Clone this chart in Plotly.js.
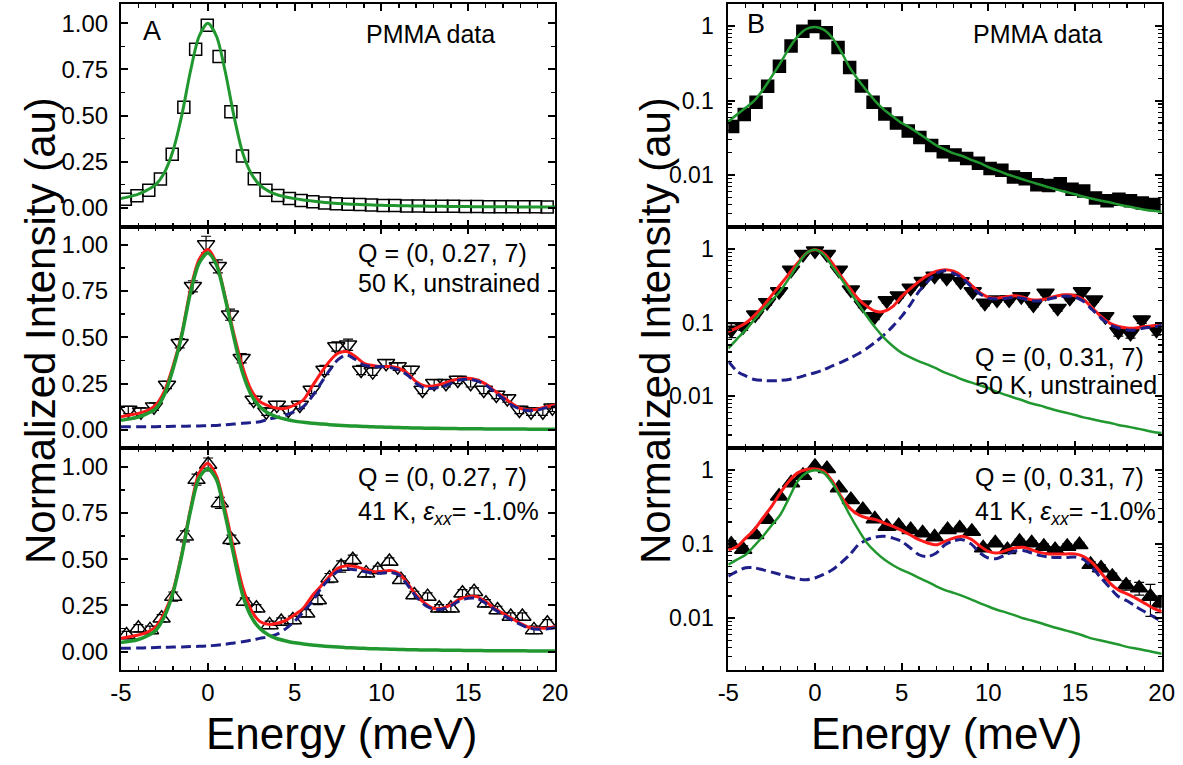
<!DOCTYPE html>
<html><head><meta charset="utf-8">
<script src="https://cdn.plot.ly/plotly-3.0.1.min.js"></script>
<style>html,body{margin:0;padding:0;background:#fff}#plot{width:1183px;height:765px}</style>
</head><body><div id="plot"></div>
<script>
// ---------- DATA ----------
const E_fit = [-5,-4.5,-4,-3.5,-3,-2.5,-2,-1.5,-1,-0.5,0,0.5,1,1.5,2,2.5,3,3.5,4,4.5,5,5.5,6,6.5,7,7.5,8,8.5,9,9.5,10,10.5,11,11.5,12,12.5,13,13.5,14,14.5,15,15.5,16,16.5,17,17.5,18,18.5,19,19.5,20];

// PMMA reference data (panels A top and B top)
const E_pmma = [-4.75,-4.08,-3.40,-2.73,-2.05,-1.38,-0.70,-0.03,0.65,1.33,2.00,2.68,3.35,4.03,4.70,5.38,6.05,6.73,7.40,8.08,8.75,9.43,10.10,10.78,11.45,12.13,12.80,13.48,14.15,14.83,15.50,16.18,16.85,17.53,18.20,18.88,19.55];
const I_pmma = [0.045,0.065,0.095,0.156,0.29,0.545,0.86,0.99,0.82,0.52,0.28,0.157,0.095,0.066,0.05,0.039,0.032,0.025,0.0205,0.0185,0.0166,0.0144,0.0122,0.0116,0.0094,0.0089,0.0074,0.0072,0.0076,0.0064,0.0061,0.0049,0.0045,0.0047,0.0045,0.0042,0.004];

// Q = (0, 0.27, 7), 50 K unstrained (panel A middle)
const E_A2 = [-4.58,-3.85,-3.1,-2.35,-1.62,-0.86,-0.1,0.58,1.28,1.95,2.64,3.37,3.98,4.64,5.3,5.98,6.72,7.4,8.08,8.83,9.5,10.27,10.94,11.7,12.37,13.04,13.72,14.4,15.14,15.9,16.62,17.25,17.95,18.62,19.3,19.85];
const I_A2 = [0.108,0.099,0.126,0.243,0.468,0.775,1.0,0.883,0.622,0.387,0.162,0.099,0.135,0.108,0.135,0.216,0.324,0.45,0.46,0.324,0.315,0.36,0.342,0.324,0.216,0.252,0.252,0.27,0.252,0.216,0.189,0.17,0.108,0.099,0.099,0.12];
const err_A2 = [0.02,0.02,0.02,0.02,0.025,0.03,0.045,0.035,0.03,0.025,0.02,0.02,0.02,0.02,0.02,0.02,0.025,0.025,0.03,0.025,0.02,0.02,0.02,0.02,0.02,0.02,0.02,0.02,0.02,0.02,0.02,0.02,0.02,0.02,0.02,0.02];

// Q = (0, 0.27, 7), 41 K strained (panel A bottom)
const E_A3 = [-4.68,-4.0,-3.33,-2.66,-1.99,-1.32,-0.65,0.02,0.69,1.36,2.13,2.8,3.56,4.23,4.9,5.67,6.34,7.01,7.68,8.35,9.12,9.79,10.46,11.13,11.9,12.66,13.33,14.0,14.67,15.34,16.02,16.69,17.45,18.12,18.79,19.56];
const I_A3 = [0.09,0.127,0.118,0.181,0.298,0.624,0.931,1.013,0.805,0.606,0.271,0.235,0.145,0.163,0.172,0.208,0.28,0.398,0.461,0.497,0.425,0.443,0.488,0.389,0.307,0.298,0.235,0.235,0.316,0.325,0.262,0.226,0.19,0.19,0.118,0.154];
const err_A3 = [0.02,0.02,0.02,0.02,0.025,0.03,0.03,0.035,0.03,0.025,0.02,0.02,0.02,0.02,0.02,0.02,0.025,0.025,0.03,0.025,0.02,0.02,0.02,0.02,0.02,0.02,0.02,0.02,0.02,0.02,0.02,0.02,0.02,0.02,0.02,0.02];

// Q = (0, 0.31, 7), 50 K unstrained (panel B middle)
const E_B2 = [-4.83,-4.14,-3.45,-2.76,-2.07,-1.38,-0.69,0,0.69,1.38,2.07,2.76,3.45,4.14,4.83,5.52,6.21,6.9,7.6,8.4,9.1,9.8,10.5,11.2,11.9,12.6,13.3,14.0,14.7,15.4,16.1,16.75,17.5,18.2,18.85,19.7];
const I_B2 = [0.08,0.089,0.128,0.189,0.266,0.52,0.85,0.95,0.85,0.52,0.28,0.176,0.122,0.2,0.233,0.296,0.365,0.43,0.404,0.364,0.266,0.185,0.205,0.205,0.228,0.176,0.253,0.158,0.216,0.266,0.205,0.122,0.076,0.072,0.11,0.08];
const err_B2 = [0.017,0.01,0.012,0.015,0.02,0.03,0.04,0.05,0.04,0.03,0.02,0.015,0.012,0.015,0.018,0.02,0.025,0.03,0.03,0.028,0.02,0.015,0.015,0.015,0.016,0.014,0.018,0.014,0.016,0.018,0.015,0.012,0.01,0.01,0.012,0.012];

// Q = (0, 0.31, 7), 41 K strained (panel B bottom)
const E_B3 = [-4.83,-4.14,-3.45,-2.76,-2.07,-1.38,-0.69,0,0.69,1.38,2.07,2.76,3.45,4.14,4.83,5.52,6.21,6.9,7.65,8.35,9.05,9.7,10.4,11.1,11.8,12.5,13.2,13.85,14.55,15.25,15.9,16.5,17.15,17.95,18.7,19.35,19.9];
const I_B3 = [0.1,0.085,0.134,0.215,0.444,0.673,0.847,1.12,1.05,0.576,0.4,0.293,0.219,0.174,0.178,0.157,0.142,0.125,0.157,0.165,0.149,0.089,0.104,0.084,0.109,0.104,0.093,0.084,0.093,0.098,0.053,0.0475,0.0366,0.028,0.0255,0.0196,0.0159];
const err_B3 = [0.012,0.01,0.012,0.015,0.025,0.035,0.04,0.05,0.045,0.03,0.02,0.015,0.012,0.01,0.01,0.01,0.01,0.01,0.01,0.01,0.01,0.008,0.008,0.008,0.008,0.008,0.008,0.008,0.008,0.008,0.005,0.005,0.004,0.004,0.005,0.009,0.004];

// Fit curves (green = elastic, blue dashed = inelastic, red = total)
const gA1 = [0.05,0.06,0.073,0.095,0.125,0.19,0.31,0.5,0.74,0.93,1.0,0.93,0.74,0.5,0.3,0.185,0.122,0.09,0.07,0.058,0.049,0.042,0.036,0.031,0.026,0.022,0.02,0.018,0.016,0.0145,0.0128,0.0118,0.0107,0.0098,0.009,0.0083,0.0077,0.0071,0.0066,0.0061,0.0057,0.0053,0.005,0.0047,0.0044,0.0042,0.0039,0.0037,0.0035,0.0034,0.0032];
const gA2 = [0.052,0.06,0.07,0.088,0.115,0.19,0.33,0.51,0.74,0.9,0.955,0.89,0.71,0.5,0.31,0.19,0.125,0.09,0.07,0.058,0.048,0.042,0.037,0.033,0.029,0.026,0.023,0.021,0.019,0.017,0.016,0.0145,0.013,0.012,0.011,0.01,0.0095,0.0088,0.008,0.0075,0.007,0.0065,0.006,0.0058,0.0055,0.0052,0.005,0.0047,0.0045,0.0042,0.004];
const rA2 = [0.072,0.081,0.09,0.105,0.135,0.21,0.345,0.52,0.757,0.92,0.973,0.9,0.72,0.52,0.342,0.216,0.153,0.13,0.117,0.117,0.135,0.162,0.234,0.306,0.37,0.414,0.423,0.396,0.36,0.348,0.342,0.342,0.333,0.306,0.261,0.238,0.238,0.249,0.265,0.277,0.279,0.27,0.249,0.213,0.18,0.144,0.117,0.108,0.113,0.126,0.135];
const bA2 = [0.018,0.018,0.018,0.018,0.018,0.019,0.02,0.02,0.021,0.022,0.023,0.025,0.028,0.032,0.036,0.04,0.045,0.058,0.068,0.081,0.1,0.126,0.18,0.25,0.32,0.38,0.405,0.38,0.35,0.342,0.342,0.337,0.324,0.297,0.252,0.225,0.225,0.234,0.252,0.27,0.274,0.265,0.243,0.207,0.171,0.135,0.113,0.104,0.108,0.12,0.126];
const gA3 = [0.05,0.056,0.066,0.085,0.115,0.19,0.32,0.52,0.76,0.94,0.99,0.93,0.74,0.52,0.31,0.19,0.125,0.09,0.07,0.058,0.048,0.042,0.036,0.032,0.028,0.025,0.022,0.02,0.018,0.016,0.015,0.0135,0.012,0.011,0.01,0.0095,0.009,0.0083,0.0077,0.0072,0.0067,0.0062,0.0058,0.0055,0.0052,0.0049,0.0046,0.0044,0.0042,0.004,0.0038];
const rA3 = [0.072,0.081,0.09,0.105,0.135,0.21,0.33,0.53,0.77,0.967,1.02,0.95,0.768,0.552,0.353,0.226,0.163,0.148,0.154,0.17,0.2,0.235,0.3,0.353,0.407,0.452,0.465,0.461,0.447,0.434,0.434,0.439,0.425,0.371,0.307,0.262,0.235,0.235,0.253,0.284,0.298,0.298,0.271,0.235,0.208,0.181,0.154,0.132,0.127,0.127,0.136];
const bA3 = [0.018,0.019,0.02,0.021,0.023,0.024,0.025,0.026,0.028,0.029,0.031,0.035,0.04,0.047,0.054,0.062,0.072,0.081,0.095,0.125,0.165,0.215,0.27,0.34,0.395,0.435,0.447,0.443,0.434,0.425,0.425,0.43,0.416,0.362,0.298,0.253,0.23,0.23,0.248,0.275,0.289,0.289,0.262,0.23,0.199,0.172,0.148,0.127,0.121,0.123,0.13];
const gB1 = [0.052,0.065,0.08,0.1,0.14,0.21,0.32,0.5,0.73,0.92,0.98,0.9,0.7,0.46,0.28,0.19,0.135,0.097,0.075,0.061,0.05,0.043,0.036,0.03,0.025,0.022,0.0195,0.018,0.016,0.0145,0.0128,0.0115,0.0104,0.0095,0.0087,0.008,0.0074,0.0068,0.0063,0.0059,0.0055,0.0051,0.0048,0.0045,0.0043,0.004,0.0038,0.0036,0.0034,0.0033,0.0032];
const gB2 = [0.045,0.06,0.08,0.11,0.15,0.2,0.27,0.4,0.61,0.88,0.98,0.84,0.58,0.4,0.266,0.18,0.122,0.085,0.062,0.048,0.039,0.034,0.03,0.027,0.024,0.021,0.019,0.017,0.0155,0.0142,0.013,0.0115,0.0105,0.0096,0.0088,0.008,0.0075,0.0069,0.0064,0.006,0.0056,0.0052,0.0049,0.0046,0.0044,0.0041,0.0039,0.0037,0.0035,0.0033,0.0032];
const rB2 = [0.076,0.085,0.099,0.125,0.167,0.235,0.328,0.46,0.646,0.88,0.98,0.88,0.646,0.43,0.296,0.21,0.167,0.143,0.143,0.167,0.228,0.29,0.364,0.44,0.5,0.524,0.5,0.426,0.328,0.258,0.223,0.216,0.223,0.233,0.223,0.205,0.205,0.216,0.233,0.24,0.233,0.205,0.158,0.122,0.099,0.089,0.085,0.085,0.089,0.091,0.097];
const bB2 = [0.03,0.022,0.019,0.017,0.0165,0.0163,0.0165,0.017,0.018,0.0195,0.021,0.023,0.026,0.029,0.033,0.038,0.045,0.055,0.069,0.09,0.122,0.176,0.266,0.364,0.47,0.51,0.47,0.404,0.311,0.248,0.216,0.21,0.214,0.223,0.214,0.199,0.199,0.21,0.223,0.23,0.223,0.195,0.15,0.116,0.094,0.085,0.08,0.08,0.085,0.087,0.093];
const gB3 = [0.053,0.062,0.072,0.095,0.128,0.18,0.25,0.42,0.71,0.92,1.0,0.92,0.67,0.42,0.25,0.157,0.104,0.078,0.062,0.052,0.045,0.04,0.035,0.031,0.027,0.024,0.022,0.02,0.018,0.016,0.0144,0.013,0.012,0.011,0.01,0.0093,0.0086,0.0079,0.0073,0.0068,0.0063,0.0058,0.0053,0.005,0.0047,0.0044,0.0041,0.0039,0.0037,0.0035,0.0033];
const rB3 = [0.084,0.093,0.121,0.157,0.226,0.325,0.493,0.71,0.92,1.02,1.04,0.97,0.71,0.444,0.31,0.25,0.226,0.215,0.193,0.174,0.154,0.133,0.115,0.104,0.098,0.109,0.121,0.128,0.117,0.095,0.08,0.076,0.082,0.089,0.091,0.084,0.077,0.074,0.074,0.074,0.074,0.068,0.056,0.041,0.03,0.024,0.0213,0.0187,0.016,0.0137,0.0123];
const bB3 = [0.037,0.043,0.048,0.048,0.045,0.042,0.039,0.036,0.034,0.033,0.035,0.039,0.045,0.056,0.072,0.098,0.115,0.125,0.128,0.121,0.109,0.089,0.072,0.068,0.076,0.098,0.111,0.115,0.101,0.077,0.065,0.064,0.072,0.08,0.082,0.076,0.07,0.067,0.066,0.066,0.067,0.062,0.048,0.035,0.026,0.0196,0.0172,0.0144,0.0123,0.0106,0.009];

// tick labels
const xTickVals = [-5,0,5,10,15,20];
const xTickText = ['-5','0','5','10','15','20'];
const linTickVals = [0,0.25,0.5,0.75,1];
const linTickText = ['0.00','0.25','0.50','0.75','1.00'];
const logTickVals = [0.01,0.1,1];
const logTickText = ['0.01','0.1','1'];

// ---------- STYLE ----------
const W = 1183, H = 765;
const FONT = 'Liberation Sans, Arial, sans-serif';
const GREEN = '#21982f', RED = '#ff1a1a', NAVY = '#1f1f8a';

function dataTrace(x, y, err, sym, xa, ya){
  const t = {x:x, y:y, xaxis:xa, yaxis:ya, type:'scatter', mode:'markers',
    marker:{symbol:sym, size: sym.indexOf('square')>=0 ? 12 : 15, color:'black', line:{color:'black', width:1.5}},
    hoverinfo:'skip'};
  if (err) t.error_y = {type:'data', array:err, visible:true, color:'black', thickness:1.2, width:5};
  return t;
}
function lineTrace(y, color, dash, width, xa, ya){
  return {x:E_fit, y:y, xaxis:xa, yaxis:ya, type:'scatter', mode:'lines',
    line:{color:color, width:width, dash:dash||'solid', shape:'spline', smoothing:0.8}, hoverinfo:'skip'};
}
const DASH = '10px,5px';

const traces = [
  dataTrace(E_pmma, I_pmma, null, 'square-open', 'x', 'y'),
  lineTrace(gA1, GREEN, null, 3, 'x', 'y'),
  dataTrace(E_A2, I_A2, err_A2, 'triangle-down-open', 'x2', 'y2'),
  lineTrace(rA2, RED, null, 3, 'x2', 'y2'),
  lineTrace(bA2, NAVY, DASH, 3, 'x2', 'y2'),
  lineTrace(gA2, GREEN, null, 3.5, 'x2', 'y2'),
  dataTrace(E_A3, I_A3, err_A3, 'triangle-up-open', 'x3', 'y3'),
  lineTrace(rA3, RED, null, 3, 'x3', 'y3'),
  lineTrace(bA3, NAVY, DASH, 3, 'x3', 'y3'),
  lineTrace(gA3, GREEN, null, 3.5, 'x3', 'y3'),
  dataTrace(E_pmma, I_pmma, null, 'square', 'x4', 'y4'),
  lineTrace(gB1, GREEN, null, 2.5, 'x4', 'y4'),
  dataTrace(E_B2, I_B2, err_B2, 'triangle-down', 'x5', 'y5'),
  lineTrace(rB2, RED, null, 3, 'x5', 'y5'),
  lineTrace(bB2, NAVY, DASH, 3, 'x5', 'y5'),
  lineTrace(gB2, GREEN, null, 2.5, 'x5', 'y5'),
  dataTrace(E_B3, I_B3, err_B3, 'triangle-up', 'x6', 'y6'),
  lineTrace(rB3, RED, null, 3, 'x6', 'y6'),
  lineTrace(bB3, NAVY, DASH, 3, 'x6', 'y6'),
  lineTrace(gB3, GREEN, null, 2.5, 'x6', 'y6'),
];

const domXA = [121/W, 555/W], domXB = [728.3/W, 1161.7/W];
const domTop = [1-227/H, 1-4/H], domMid = [1-448/H, 1-227/H], domBot = [1-670/H, 1-448/H];

const TICKFONT = {family:FONT, size:24, color:'black'};
function xax(dom, anchor, labels){
  return {domain:dom, anchor:anchor, range:[-5,20], showline:true, linecolor:'black', linewidth:2,
    mirror:'ticks', ticks:'inside', ticklen:7, tickwidth:2, tickcolor:'black',
    tickmode:'array', tickvals:xTickVals, ticktext:xTickText, showticklabels:labels,
    tickfont:TICKFONT,
    minor:{tickmode:'linear', tick0:0, dtick:1, ticks:'inside', ticklen:4, tickwidth:1.5, tickcolor:'black'},
    showgrid:false, zeroline:false, fixedrange:true};
}
function yLin(dom, anchor, range){
  return {domain:dom, anchor:anchor, range:range, showline:true, linecolor:'black', linewidth:2,
    mirror:'ticks', ticks:'inside', ticklen:7, tickwidth:2, tickcolor:'black',
    tickmode:'array', tickvals:linTickVals, ticktext:linTickText,
    tickfont:TICKFONT, ticklabelstandoff:6,
    minor:{tickmode:'array', tickvals:[0.125,0.375,0.625,0.875], ticks:'inside', ticklen:4, tickwidth:1.5, tickcolor:'black'},
    showgrid:false, zeroline:false, fixedrange:true};
}
const logMinor = [];
[0.001,0.01,0.1,1].forEach(d=>{for(let k=2;k<=9;k++){ const v=+(k*d).toPrecision(3); if(v>0.0019 && v<1.99) logMinor.push(v);} });
function yLog(dom, anchor){
  return {domain:dom, anchor:anchor, type:'log', range:[-2.7,0.3], showline:true, linecolor:'black', linewidth:2,
    mirror:'ticks', ticks:'inside', ticklen:7, tickwidth:2, tickcolor:'black',
    tickmode:'array', tickvals:logTickVals, ticktext:logTickText,
    tickfont:{family:FONT, size:23, color:'black'}, ticklabelstandoff:8,
    minor:{tickmode:'array', tickvals:logMinor, ticks:'inside', ticklen:3.5, tickwidth:1.2, tickcolor:'black'},
    showgrid:false, zeroline:false, fixedrange:true};
}

function ann(text, px, py, size, xanchor, extra){
  return Object.assign({text:text, x:px/W, y:1-py/H, xref:'paper', yref:'paper', showarrow:false,
    xanchor:xanchor||'center', yanchor:'middle', font:{family:FONT, size:size, color:'black'}}, extra||{});
}
const annotations = [
  ann('A', 152, 31, 27),
  ann('PMMA data', 430, 34, 25),
  ann('B', 756, 24, 27),
  ann('PMMA data', 1037, 34, 25),
  ann('Q = (0, 0.27, 7)', 356, 253, 25, 'left'),
  ann('50 K, unstrained', 356, 283, 25, 'left'),
  ann('Q = (0, 0.27, 7)', 356, 477, 25, 'left'),
  ann('41 K, <i>\u03b5</i><sub><i>xx</i></sub>= -1.0%', 356, 513, 25, 'left'),
  ann('Q = (0, 0.31, 7)', 973, 357, 25, 'left'),
  ann('50 K, unstrained', 973, 385, 25, 'left'),
  ann('Q = (0, 0.31, 7)', 973, 477, 25, 'left'),
  ann('41 K, <i>\u03b5</i><sub><i>xx</i></sub>= -1.0%', 973, 513, 25, 'left'),
  ann('Normalized Intensity (au)', 40, 331, 42, 'center', {textangle:-90}),
  ann('Normalized Intensity (au)', 655, 331, 42, 'center', {textangle:-90}),
  ann('Energy (meV)', 341, 733, 44),
  ann('Energy (meV)', 947, 733, 44),
];

const layout = {
  width:W, height:H, margin:{l:0, r:0, t:0, b:0}, showlegend:false,
  paper_bgcolor:'white', plot_bgcolor:'white', font:{family:FONT, size:24, color:'black'},
  xaxis: xax(domXA, 'y', false),
  xaxis2: xax(domXA, 'y2', false),
  xaxis3: xax(domXA, 'y3', true),
  xaxis4: xax(domXB, 'y4', false),
  xaxis5: xax(domXB, 'y5', false),
  xaxis6: xax(domXB, 'y6', true),
  yaxis: yLin(domTop, 'x', [-0.105, 1.105]),
  yaxis2: yLin(domMid, 'x2', [-0.097, 1.095]),
  yaxis3: yLin(domBot, 'x3', [-0.099, 1.102]),
  yaxis4: yLog(domTop, 'x4'),
  yaxis5: yLog(domMid, 'x5'),
  yaxis6: yLog(domBot, 'x6'),
  annotations: annotations
};

Plotly.newPlot('plot', traces, layout, {staticPlot:true, displayModeBar:false});
</script></body></html>
